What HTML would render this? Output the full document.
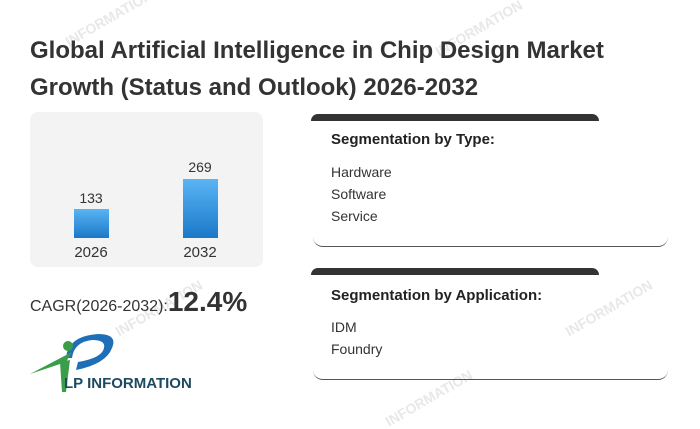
<!DOCTYPE html>
<html><head><style>
body{margin:0;width:700px;height:423px;background:#fff;font-family:"Liberation Sans",Arial,sans-serif;position:relative;overflow:hidden;color:#333}
.a{position:absolute}
.title{left:30px;top:32px;font-size:24px;font-weight:bold;line-height:37px;color:#333;width:620px}
.box{left:30px;top:112px;width:233px;height:155px;background:#f3f3f3;border-radius:8px}
.bar{background:linear-gradient(#5ab4f4,#1a78c8);width:35px}
.lbl{font-size:14px;width:60px;text-align:center;color:#333}
.card{left:313px;width:355px;border-bottom:1px solid #555;border-radius:0 0 10px 10px}
.cap{left:311px;width:288px;height:7px;background:#333;border-radius:10px 10px 0 0}
.ct{left:331px;font-size:15px;font-weight:bold;color:#222}
.it{left:331px;font-size:14px;color:#333}
.wm{color:#e8e8e8;font-size:14px;font-weight:bold;transform:rotate(-30deg)}
</style></head><body>
<div class="a wm" style="left:60px;top:10px">INFORMATION</div>
<div class="a wm" style="left:430px;top:20px">INFORMATION</div>
<div class="a wm" style="left:110px;top:300px">INFORMATION</div>
<div class="a wm" style="left:560px;top:300px">INFORMATION</div>
<div class="a wm" style="left:380px;top:390px">INFORMATION</div>
<div class="a title">Global Artificial Intelligence in Chip Design Market Growth (Status and Outlook) 2026-2032</div>
<div class="a box"></div>
<div class="a bar" style="left:74px;top:209px;height:29px"></div>
<div class="a bar" style="left:183px;top:179px;height:59px"></div>
<div class="a lbl" style="left:61px;top:190px">133</div>
<div class="a lbl" style="left:170px;top:159px">269</div>
<div class="a lbl" style="left:61px;top:244px;font-size:15px">2026</div>
<div class="a lbl" style="left:170px;top:244px;font-size:15px">2032</div>
<div class="a" style="left:30px;top:286px;font-size:16px;color:#333;white-space:nowrap">CAGR(2026-2032):<span style="font-size:28px;font-weight:bold;color:#333">12.4%</span></div>
<svg class="a" style="left:28px;top:330px" width="170" height="66">
<path d="M38 28 Q40 6 70 4 Q90 4 84 18 Q78 34 48 40 L50 32 Q74 28 76 18 Q78 10 64 10 Q46 12 44 28Z" fill="#1f6fb8"/>
<circle cx="40" cy="16" r="5" fill="#3a9d4a"/>
<path d="M2 44 L44 22 L38 32 Z M32 32 L42 30 L38 62 L34 62 Z" fill="#3a9d4a"/>
<text x="36" y="58" font-family="Liberation Sans" font-weight="bold" font-size="15" fill="#1e4a60">LP INFORMATION</text>
</svg>
<div class="a cap" style="top:114px"></div>
<div class="a card" style="top:114px;height:132px"></div>
<div class="a ct" style="top:131px">Segmentation by Type:</div>
<div class="a it" style="top:164px">Hardware</div>
<div class="a it" style="top:186px">Software</div>
<div class="a it" style="top:208px">Service</div>
<div class="a cap" style="top:268px"></div>
<div class="a card" style="top:268px;height:111px"></div>
<div class="a ct" style="top:287px">Segmentation by Application:</div>
<div class="a it" style="top:319px">IDM</div>
<div class="a it" style="top:341px">Foundry</div>
</body></html>
